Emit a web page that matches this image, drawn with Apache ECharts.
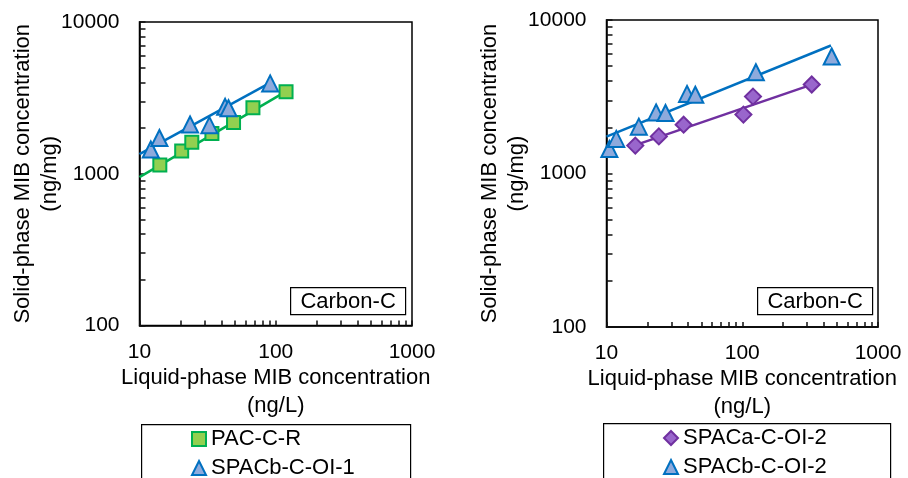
<!DOCTYPE html>
<html>
<head>
<meta charset="utf-8">
<script src="https://cdn.jsdelivr.net/npm/echarts@6/dist/echarts.min.js"></script>
<style>
  html, body { margin: 0; padding: 0; background: #fff; }
  #chart { width: 908px; height: 478px; }
</style>
</head>
<body>
<div id="chart"></div>
<script>
// values, [liquid ng/L, solid ng/mg]
var pacCR = [[14.1, 1140], [20.4, 1410], [24.2, 1610], [34, 1840], [49, 2180], [68, 2720], [119, 3470]];
var spacbOI1 = [[12.1, 1445], [14, 1720], [23.5, 2110], [32.6, 2090], [42.5, 2760], [45, 2700], [91, 3940]];
var spacaOI2 = [[16.3, 1520], [24.3, 1745], [37, 2080], [102, 2420], [120, 3170], [325, 3800]];
var spacbOI2 = [[10.5, 1445], [11.8, 1680], [17.3, 2020], [23.2, 2500], [27.2, 2480], [39.2, 3300], [45.1, 3260], [126, 4570], [456, 5780]];

// fitted trend lines (end points)
var fitPacCR = [[10, 950], [120, 3500]];
var fitSpacbOI1 = [[10, 1345], [90, 3950]];
var fitSpacaOI2 = [[16.3, 1530], [325, 3790]];
var fitSpacbOI2 = [[10, 1738], [450, 6820]];

// tick positions of the log axes (majors and minors)
var xTicks = [10, 20, 30, 40, 50, 60, 70, 80, 90, 100, 200, 300, 400, 500, 600, 700, 800, 900, 1000];
var yTicks = [100, 200, 300, 400, 500, 600, 700, 800, 900, 1000, 2000, 3000, 4000, 5000, 6000, 7000, 8000, 9000, 10000];

var FONT = '"Liberation Sans", Arial, sans-serif';
var GREEN = '#00b050', GREEN_FILL = '#92d050';
var BLUE = '#0070c0', BLUE_FILL = '#8eaadc';
var PURPLE = '#7030a0', PURPLE_FILL = '#9966cc';

var myChart = echarts.init(document.getElementById('chart'));

function plain(v) { return String(Math.round(v)); }

function xAxisOf(gi) {
  return {
    type: 'log', logBase: 10, gridIndex: gi, min: 10, max: 1000,
    name: 'Liquid-phase MIB concentration\n(ng/L)',
    nameLocation: 'middle', nameGap: 38, nameMoveOverlap: false,
    nameTextStyle: { fontFamily: FONT, fontSize: 22, color: '#000', lineHeight: 28 },
    axisLine: { show: true, lineStyle: { color: '#000', width: 1.5 } },
    axisTick: { show: true, inside: true, length: 5, customValues: xTicks,
      lineStyle: { color: '#111', width: 1.5 } },
    axisLabel: { fontFamily: FONT, fontSize: 21, color: '#000', margin: 16, formatter: plain },
    splitLine: { show: false }
  };
}
function yAxisOf(gi) {
  return {
    type: 'log', logBase: 10, gridIndex: gi, min: 100, max: 10000,
    name: 'Solid-phase MIB concentration\n(ng/mg)',
    nameLocation: 'middle', nameGap: 76, nameRotate: 90, nameMoveOverlap: false,
    nameTextStyle: { fontFamily: FONT, fontSize: 22, color: '#000', lineHeight: 27 },
    axisLine: { show: true, lineStyle: { color: '#000', width: 1.5 } },
    axisTick: { show: true, inside: true, length: 6, customValues: yTicks,
      lineStyle: { color: '#111', width: 1.5 } },
    axisLabel: { fontFamily: FONT, fontSize: 21, color: '#000', margin: 20, formatter: plain },
    splitLine: { show: false }
  };
}

function fitLine(gi, data, color) {
  return {
    type: 'line', xAxisIndex: gi, yAxisIndex: gi, data: data,
    showSymbol: false, silent: true, z: 2,
    lineStyle: { color: color, width: 2.5 }
  };
}

function scatter(gi, name, data, symbol, size, fill, border) {
  return {
    type: 'scatter', name: name, xAxisIndex: gi, yAxisIndex: gi, data: data,
    symbol: symbol, symbolSize: size, z: 3,
    itemStyle: { color: fill, borderColor: border, borderWidth: 2, opacity: 1 }
  };
}

function carbonBox(x, y) {
  return {
    type: 'group', left: x, top: y,
    children: [
      { type: 'rect', shape: { x: 0, y: 0, width: 115, height: 27 },
        style: { fill: '#fff', stroke: '#000', lineWidth: 1.2 } },
      { type: 'text', x: 57.5, y: 14, style: { text: 'Carbon-C', font: '22px ' + FONT,
        fill: '#000', align: 'center', verticalAlign: 'middle' } }
    ]
  };
}

function legendOf(x, y, names) {
  return {
    left: x, top: y, height: 80, orient: 'vertical', padding: 0, itemGap: 7,
    itemWidth: 14, itemHeight: 14, align: 'left', data: names,
    textStyle: { fontFamily: FONT, fontSize: 22, color: '#000', lineHeight: 22 }
  };
}

var option = {
  backgroundColor: '#fff',
  animation: false,
  grid: [
    { left: 139.5, top: 22, width: 272.5, height: 303.5, show: true, borderColor: '#000', borderWidth: 1.5, backgroundColor: 'transparent' },
    { left: 606.5, top: 20, width: 271.5, height: 307, show: true, borderColor: '#000', borderWidth: 1.5, backgroundColor: 'transparent' }
  ],
  xAxis: [xAxisOf(0), xAxisOf(1)],
  yAxis: [yAxisOf(0), yAxisOf(1)],
  legend: [
    legendOf(191, 428, ['PAC-C-R', 'SPACb-C-OI-1']),
    legendOf(663, 427, ['SPACa-C-OI-2', 'SPACb-C-OI-2'])
  ],
  graphic: [
    carbonBox(290, 287),
    carbonBox(757, 287),
    { type: 'rect', left: 141, top: 424, z: -1,
      shape: { x: 0, y: 0, width: 269, height: 70 },
      style: { fill: '#fff', stroke: '#000', lineWidth: 1.2 } },
    { type: 'rect', left: 603, top: 423, z: -1,
      shape: { x: 0, y: 0, width: 287, height: 70 },
      style: { fill: '#fff', stroke: '#000', lineWidth: 1.2 } }
  ],
  series: [
    fitLine(0, fitPacCR, GREEN),
    fitLine(0, fitSpacbOI1, BLUE),
    fitLine(1, fitSpacaOI2, PURPLE),
    fitLine(1, fitSpacbOI2, BLUE),
    scatter(0, 'PAC-C-R', pacCR, 'rect', 13, GREEN_FILL, GREEN),
    scatter(0, 'SPACb-C-OI-1', spacbOI1, 'triangle', 16, BLUE_FILL, BLUE),
    scatter(1, 'SPACa-C-OI-2', spacaOI2, 'diamond', 16, PURPLE_FILL, PURPLE),
    scatter(1, 'SPACb-C-OI-2', spacbOI2, 'triangle', 16, BLUE_FILL, BLUE)
  ]
};

myChart.setOption(option);
</script>
</body>
</html>
